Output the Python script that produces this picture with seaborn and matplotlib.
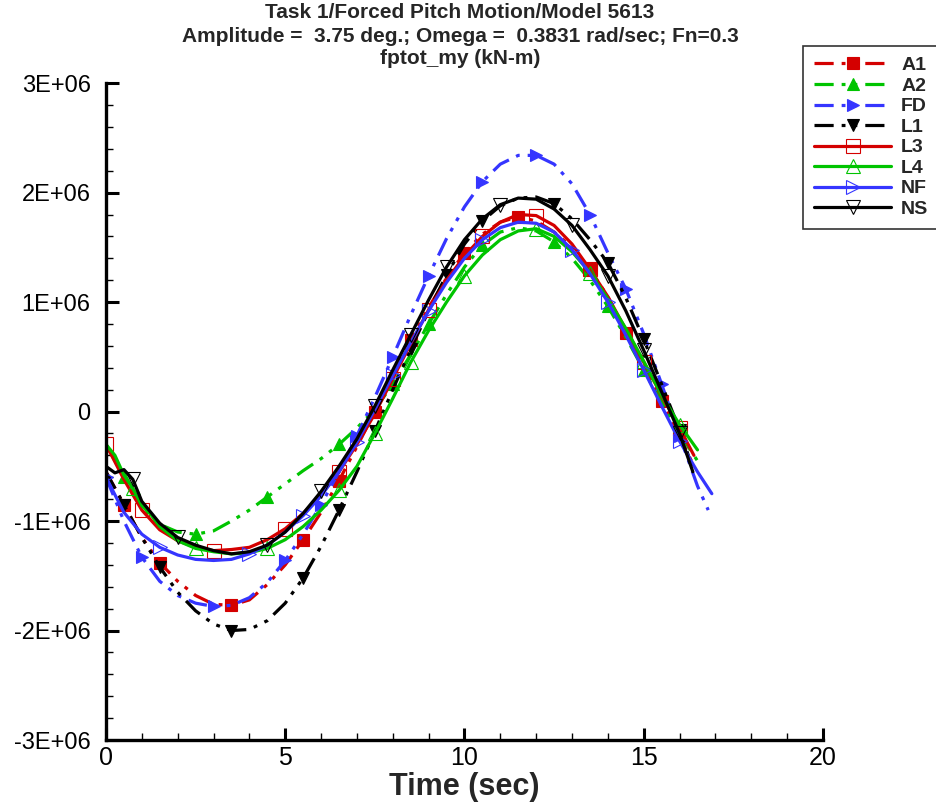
import numpy as np
import pandas as pd
import seaborn as sns
import matplotlib
matplotlib.use("Agg")
import matplotlib.pyplot as plt
from matplotlib.ticker import MultipleLocator

# time (sec) and fptot_my values (in units of 1E+06 kN-m)
t_a1 = [0, 0.5, 1, 1.5, 2, 2.5, 3, 3.5, 4, 4.5, 5, 5.5, 6, 6.5, 7, 7.5, 8, 8.5, 9, 9.5, 10,
        10.5, 11, 11.5, 12, 12.5, 13, 13.5, 14, 14.5, 15, 15.5, 16, 16.4]
a1 = [-0.55, -0.85, -1.15, -1.38, -1.55, -1.68, -1.76, -1.77, -1.72, -1.58, -1.4, -1.17, -0.92,
      -0.63, -0.32, 0.0, 0.33, 0.65, 0.95, 1.22, 1.45, 1.62, 1.73, 1.78, 1.74, 1.64, 1.5, 1.3,
      1.05, 0.72, 0.42, 0.1, -0.22, -0.5]

t_a2 = [0, 0.5, 1, 1.5, 2, 2.5, 3, 3.5, 4, 4.5, 5, 5.5, 6, 6.5, 7, 7.5, 8, 8.5, 9, 9.5, 10,
        10.5, 11, 11.5, 12, 12.5, 13, 13.5, 14, 14.5, 15, 15.5, 16, 16.5]
a2 = [-0.3, -0.6, -0.88, -1.03, -1.1, -1.12, -1.09, -1.0, -0.9, -0.78, -0.66, -0.54, -0.43,
      -0.3, -0.15, 0.02, 0.25, 0.52, 0.8, 1.07, 1.32, 1.52, 1.64, 1.68, 1.65, 1.55, 1.4, 1.2,
      0.96, 0.68, 0.38, 0.08, -0.2, -0.45]

t_fd = [0, 0.5, 1, 1.5, 2, 2.5, 3, 3.5, 4, 4.5, 5, 5.5, 6, 6.5, 7, 7.5, 8, 8.5, 9, 9.5, 10,
        10.5, 11, 11.5, 12, 12.5, 13, 13.5, 14, 14.5, 15, 15.5, 16, 16.5, 16.8]
fd = [-0.6, -1.0, -1.33, -1.55, -1.68, -1.75, -1.78, -1.77, -1.7, -1.56, -1.36, -1.12, -0.85,
      -0.55, -0.22, 0.13, 0.5, 0.88, 1.24, 1.58, 1.87, 2.1, 2.26, 2.34, 2.34, 2.26, 2.08, 1.8,
      1.45, 1.12, 0.71, 0.25, -0.22, -0.68, -0.9]

t_l1 = [0, 0.5, 1, 1.5, 2, 2.5, 3, 3.5, 4, 4.5, 5, 5.5, 6, 6.5, 7, 7.5, 8, 8.5, 9, 9.5, 10,
        10.5, 11, 11.5, 12, 12.5, 13, 13.5, 14, 14.5, 15, 15.5, 16, 16.35]
l1 = [-0.55, -0.85, -1.15, -1.42, -1.65, -1.82, -1.94, -2.0, -1.99, -1.91, -1.75, -1.52, -1.23,
      -0.9, -0.55, -0.18, 0.2, 0.57, 0.92, 1.25, 1.53, 1.74, 1.88, 1.95, 1.96, 1.9, 1.76, 1.57,
      1.36, 1.04, 0.66, 0.25, -0.17, -0.5]

t_l3 = [0, 0.5, 1, 1.5, 2, 2.5, 3, 3.5, 4, 4.5, 5, 5.5, 6, 6.5, 7, 7.5, 8, 8.5, 9, 9.5, 10,
        10.5, 11, 11.5, 12, 12.5, 13, 13.5, 14, 14.5, 15, 15.5, 16, 16.4]
l3 = [-0.3, -0.62, -0.9, -1.08, -1.18, -1.24, -1.27, -1.26, -1.24, -1.17, -1.07, -0.93, -0.76,
      -0.55, -0.3, -0.02, 0.3, 0.62, 0.93, 1.2, 1.42, 1.6, 1.73, 1.8, 1.79, 1.7, 1.53, 1.3,
      1.05, 0.75, 0.45, 0.15, -0.15, -0.4]

t_l4 = [0, 0.25, 0.5, 0.75, 1, 1.25, 1.5, 2, 2.5, 3, 3.5, 4, 4.5, 5, 5.5, 6, 6.5, 7, 7.5, 8,
        8.5, 9, 9.5, 10, 10.5, 11, 11.5, 12, 12.5, 13, 13.5, 14, 14.5, 15, 15.5, 16, 16.5]
l4 = [-0.3, -0.4, -0.58, -0.7, -0.86, -0.94, -1.05, -1.18, -1.25, -1.28, -1.3, -1.29, -1.25,
      -1.17, -1.05, -0.9, -0.72, -0.5, -0.2, 0.12, 0.45, 0.74, 1.0, 1.24, 1.43, 1.57, 1.65,
      1.67, 1.6, 1.46, 1.27, 1.03, 0.76, 0.46, 0.15, -0.12, -0.35]

t_nf = [0, 0.5, 1, 1.5, 2, 2.5, 3, 3.5, 4, 4.5, 5, 5.5, 6, 6.5, 7, 7.5, 8, 8.5, 9, 9.5, 10,
        10.5, 11, 11.5, 12, 12.5, 13, 13.5, 14, 14.5, 15, 15.5, 16, 16.5, 16.9]
nf = [-0.6, -0.92, -1.12, -1.24, -1.31, -1.35, -1.36, -1.35, -1.3, -1.22, -1.1, -0.95, -0.77,
      -0.55, -0.28, 0.02, 0.33, 0.63, 0.92, 1.18, 1.4, 1.57, 1.68, 1.73, 1.72, 1.64, 1.48,
      1.26, 1.0, 0.7, 0.38, 0.05, -0.27, -0.55, -0.75]

t_ns = [0, 0.25, 0.5, 0.75, 1, 1.5, 2, 2.5, 3, 3.5, 4, 4.5, 5, 5.5, 6, 6.5, 7, 7.5, 8, 8.5,
        9, 9.5, 10, 10.5, 11, 11.5, 12, 12.5, 13, 13.5, 14, 14.5, 15, 15.5, 16, 16.37]
ns = [-0.5, -0.56, -0.53, -0.62, -0.82, -1.02, -1.15, -1.22, -1.27, -1.3, -1.28, -1.22, -1.1,
      -0.93, -0.73, -0.5, -0.25, 0.05, 0.38, 0.7, 1.02, 1.32, 1.57, 1.76, 1.89, 1.95, 1.94,
      1.85, 1.7, 1.48, 1.24, 0.92, 0.56, 0.18, -0.2, -0.55]

labels = ["A1", "A2", "FD", "L1", "L3", "L4", "NF", "NS"]
times = [t_a1, t_a2, t_fd, t_l1, t_l3, t_l4, t_nf, t_ns]
values = [a1, a2, fd, l1, l3, l4, nf, ns]
ytick_labels = ["-3E+06", "-2E+06", "-1E+06", "0", "1E+06", "2E+06", "3E+06"]
title_lines = ["Task 1/Forced Pitch Motion/Model 5613",
               "Amplitude =  3.75 deg.; Omega =  0.3831 rad/sec; Fn=0.3",
               "fptot_my (kN-m)"]

RED, GREEN, BLUE, BLACK = "#d40000", "#00c400", "#3535ff", "#000000"
dashdotdot = (0, (6, 2.5, 1.2, 2.5, 1.2, 2.5))
styles = {
    "A1": dict(color=RED, ls=dashdotdot, marker="s", mfc=RED, off=0.03),
    "A2": dict(color=GREEN, ls=dashdotdot, marker="^", mfc=GREEN, off=0.05),
    "FD": dict(color=BLUE, ls=dashdotdot, marker=">", mfc=BLUE, off=0.02),
    "L1": dict(color=BLACK, ls=dashdotdot, marker="v", mfc=BLACK, off=0.04),
    "L3": dict(color=RED, ls="-", marker="s", mfc="none", off=0.0),
    "L4": dict(color=GREEN, ls="-", marker="^", mfc="none", off=0.06),
    "NF": dict(color=BLUE, ls="-", marker=">", mfc="none", off=0.01),
    "NS": dict(color=BLACK, ls="-", marker="v", mfc="none", off=0.035),
}

sns.set_theme(style="ticks")
plt.rcParams["font.family"] = ["Liberation Sans", "DejaVu Sans"]

fig = plt.figure(figsize=(9.37, 8.07), dpi=100)
ax = fig.add_axes([0.1131, 0.083, 0.7652, 0.814])

for lab, t, v in zip(labels, times, values):
    st = styles[lab]
    df = pd.DataFrame({"Time": t, "val": np.array(v) * 1e6})
    filled = st["mfc"] != "none"
    sns.lineplot(data=df, x="Time", y="val", ax=ax, sort=False, estimator=None,
                 color=st["color"], linestyle=st["ls"], linewidth=2.3,
                 marker=st["marker"], markersize=9 if filled else 10,
                 markerfacecolor=st["mfc"], markeredgecolor=st["color"],
                 markeredgewidth=0.8, markevery=(st["off"], 0.085), label=lab)

ax.set_xlim(0, 20)
ax.set_ylim(-3e6, 3e6)
ax.xaxis.set_major_locator(MultipleLocator(5))
ax.xaxis.set_minor_locator(MultipleLocator(1))
ax.yaxis.set_minor_locator(MultipleLocator(2e5))
ax.set_yticks([-3e6, -2e6, -1e6, 0, 1e6, 2e6, 3e6])
ax.set_yticklabels(ytick_labels)

sns.despine(ax=ax)
for s in ["left", "bottom"]:
    ax.spines[s].set_linewidth(2.4)
    ax.spines[s].set_color("black")
ax.tick_params(which="major", direction="in", length=9, width=2.2, colors="black")
ax.tick_params(which="minor", direction="in", length=5, width=1.0, colors="black")
ax.tick_params(axis="y", labelsize=17, pad=11)
ax.tick_params(axis="x", labelsize=18, pad=4)
for lbl in ax.get_xticklabels():
    lbl.set_family(["Liberation Sans Narrow", "Liberation Sans"])

ax.set_xlabel("Time (sec)", fontsize=22, fontweight="bold", labelpad=2)
ax.set_ylabel("")

# three title lines, Tecplot style
for txt, ypix in zip(title_lines, [13, 37, 58]):
    fig.text(460 / 937, 1 - ypix / 807, txt, ha="center", va="center",
             fontsize=15, fontweight="bold")

leg = ax.legend(loc="upper left", bbox_to_anchor=(803 / 937, 1 - 46 / 807),
                bbox_transform=fig.transFigure, frameon=True, fancybox=False,
                numpoints=1, handlelength=4.0, handletextpad=0.5,
                labelspacing=0.15, borderpad=0.55, borderaxespad=0,
                prop={"weight": "bold", "size": 14})
leg.get_frame().set_edgecolor("black")
leg.get_frame().set_linewidth(1.2)

fig.savefig("out.png", dpi=100)
